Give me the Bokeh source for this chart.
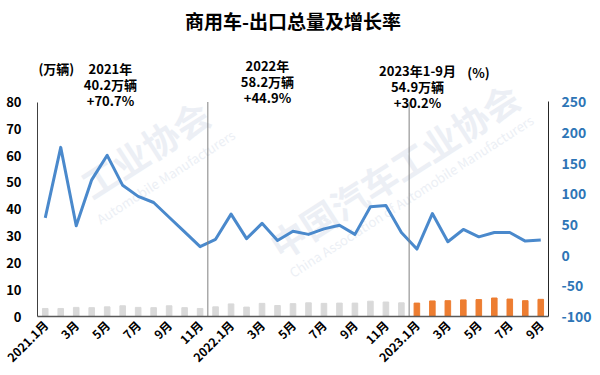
import numpy as np
from bokeh.plotting import figure
from bokeh.models import Range1d, LinearAxis, FixedTicker, Label, ColumnDataSource
from bokeh.core.properties import value
from bokeh.embed import file_html
from bokeh.resources import INLINE

# ---- data ----
months = (["2021.1月"] + [f"{m}月" for m in range(2, 13)] +
          ["2022.1月"] + [f"{m}月" for m in range(2, 13)] +
          ["2023.1月"] + [f"{m}月" for m in range(2, 10)])
export_2021 = [3.0, 3.0, 3.4, 3.3, 3.6, 4.0, 3.4, 3.3, 4.0, 3.3, 3.0, 3.6]
export_2022 = [4.7, 3.5, 4.9, 4.1, 4.8, 5.1, 4.9, 5.0, 5.0, 5.7, 5.4, 5.1]
export_2023 = [5.0, 5.8, 5.9, 6.2, 6.3, 6.9, 6.5, 5.9, 6.4]
growth = [61, 176, 48, 123, 163, 114, 96, 86, 62, 38, 14, 26,
          67, 27, 52, 24, 39, 34, 43, 49, 34, 79, 81, 37,
          10, 68, 22, 42, 30, 37, 37, 23, 25]
year_labels = ["2021年", "2022年", "2023年1-9月"]
year_totals = ["40.2万辆", "58.2万辆", "54.9万辆"]
year_growth = ["+70.7%", "+44.9%", "+30.2%"]
left_ticks = list(range(0, 81, 10))
right_ticks = list(range(-100, 251, 50))
watermark_cn = ["中国汽车工业协会", "工业协会"]
watermark_en = ["China Association of Automobile Manufacturers", "Automobile Manufacturers"]

# ---- styles / positions ----
FONT = "Noto Sans CJK SC"
GRAY = "#D9D9D9"
ORANGE = "#ED7D31"
LINE_BLUE = "#4A89CC"
AXIS_BLUE = "#2E75B6"
WM = "#ECEFF5"

volume = export_2021 + export_2022 + export_2023
colors = [GRAY] * (len(export_2021) + len(export_2022)) + [ORANGE] * len(export_2023)
xs = list(range(len(months)))
src = ColumnDataSource(dict(x=xs, vol=volume, color=colors, growth=growth))

p = figure(width=600, height=375, x_range=Range1d(-0.5, 32.5),
           y_range=Range1d(0, 117.86), output_backend="svg", toolbar_location=None,
           min_border_left=37, min_border_right=52, min_border_bottom=59, min_border_top=0)
p.extra_y_ranges = {"pct": Range1d(-100, 415.6)}
p.outline_line_color = None
p.xgrid.visible = False
p.ygrid.visible = False
p.background_fill_color = "white"
p.border_fill_color = "white"

# faint watermark
ang = 0.571
p.text(x=[14.68, 2.50], y=[25.7, 48.3], text=watermark_cn, angle=ang,
       text_font=value(FONT), text_font_style="bold", text_font_size="36px",
       text_color=WM, text_align="left", text_baseline="middle")
p.text(x=[15.84, 3.40], y=[16.0, 35.9], text=watermark_en, angle=ang,
       text_font=value(FONT), text_font_size="13px",
       text_color=WM, text_align="left", text_baseline="middle")

p.vbar(x="x", top="vol", width=0.36, color="color", source=src)
p.line(x="x", y="growth", y_range_name="pct", line_color=LINE_BLUE, line_width=3,
       line_join="round", source=src)

# year dividers
p.segment(x0=[10.5, 23.5], y0=[0, 0], x1=[10.5, 23.5], y1=[80, 80],
          line_color="#808080", line_width=1)

def style_axis(ax, size, color, standoff):
    ax.major_label_text_font = FONT
    ax.major_label_text_font_style = "bold"
    ax.major_label_text_font_size = size
    ax.major_label_text_color = color
    ax.major_label_standoff = standoff
    ax.major_tick_line_color = None
    ax.minor_tick_line_color = None
    ax.major_tick_out = 0
    ax.major_tick_in = 0
    ax.minor_tick_out = 0
    ax.minor_tick_in = 0

# x axis
xa = p.xaxis[0]
xa.ticker = FixedTicker(ticks=xs[::2])
xa.major_label_overrides = {i: months[i] for i in xs[::2]}
xa.major_label_orientation = np.pi / 4
style_axis(xa, "12px", "#000000", 6)
xa.axis_line_color = "#595959"
xa.axis_line_width = 1.5

# left axis
ya = p.yaxis[0]
ya.ticker = FixedTicker(ticks=left_ticks)
ya.bounds = (0, 80)
style_axis(ya, "13px", "#000000", 16)
ya.axis_line_color = "#404040"

# right axis
ra = LinearAxis(y_range_name="pct", ticker=FixedTicker(ticks=right_ticks), bounds=(-100, 250))
ra.major_label_overrides = {t: str(t) for t in right_ticks}
style_axis(ra, "14px", AXIS_BLUE, 13)
ra.major_label_text_align = "left"
ra.axis_line_color = "#262626"
p.add_layout(ra, "right")

def lab(x, y, text, size="13px", color="#000000", align="center"):
    p.add_layout(Label(x=x, y=y, text=text, text_align=align, text_baseline="middle",
                       text_font=FONT, text_font_style="bold", text_font_size=size,
                       text_color=color))

# title
lab(16, 110.4, "商用车-出口总量及增长率", size="19px")
# unit labels
lab(-0.44, 92.5, "(万辆)", align="left")
lab(27.98, 91.0, "(%)")
# yearly summaries
centers = [4.21, 14.35, 24.04]
tops = [92.5, 93.6, 91.8]
for cx, ty, a, b, c in zip(centers, tops, year_labels, year_totals, year_growth):
    lab(cx, ty, a)
    lab(cx, ty - 6.0, b)
    lab(cx, ty - 12.0, c)

open("out.html", "w").write(file_html(p, INLINE))
